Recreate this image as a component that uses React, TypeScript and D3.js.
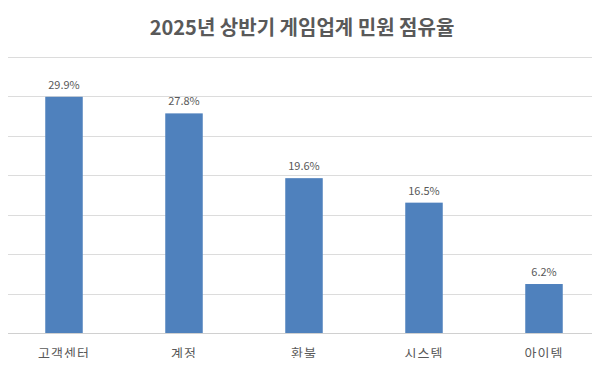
import { useEffect, useRef } from 'react';
import * as d3 from 'd3';

// chart data
const categories = ['고객센터', '계정', '환불', '시스템', '아이템'];
const shares = [29.9, 27.8, 19.6, 16.5, 6.2];
const yTicks = [0, 5, 10, 15, 20, 25, 30, 35];
const title = '2025년 상반기 게임업계 민원 점유율';

const App = () => {
  const svgRef = useRef<SVGSVGElement | null>(null);

  useEffect(() => {
    const width = 600;
    const height = 366;
    const marginTop = 56.5;
    const marginBottom = 33;
    const plotLeft = 4;
    const plotRight = 604;
    const font = '"Noto Sans CJK KR", "Noto Sans", sans-serif';

    const svg = d3.select(svgRef.current)
      .attr('width', width)
      .attr('height', height)
      .attr('viewBox', [0, 0, width, height])
      .style('display', 'block')
      .style('background', '#fff');
    svg.selectAll('*').remove();

    const x = d3.scaleBand()
      .domain(categories)
      .range([plotLeft, plotRight])
      .paddingInner(0.6875)
      .paddingOuter(0.34375);

    const y = d3.scaleLinear()
      .domain([0, 35])
      .range([height - marginBottom, marginTop]);

    // title
    svg.append('text')
      .attr('x', 302)
      .attr('y', 35)
      .attr('text-anchor', 'middle')
      .attr('font-family', font)
      .attr('font-size', 20)
      .attr('font-weight', 'bold')
      .attr('fill', '#595959')
      .text(title);

    // gridlines
    svg.append('g')
      .selectAll('line')
      .data(yTicks)
      .join('line')
      .attr('x1', plotLeft)
      .attr('x2', width)
      .attr('y1', d => Math.round(y(d)) + 0.5)
      .attr('y2', d => Math.round(y(d)) + 0.5)
      .attr('stroke', d => (d === 0 ? '#d0d0d0' : '#dcdcdc'))
      .attr('stroke-width', 1);

    const data = categories.map((c, i) => ({ category: c, value: shares[i] }));

    // bars
    svg.append('g')
      .selectAll('rect')
      .data(data)
      .join('rect')
      .attr('x', d => x(d.category) ?? 0)
      .attr('y', d => y(d.value))
      .attr('width', x.bandwidth())
      .attr('height', d => y(0) - y(d.value))
      .attr('fill', '#4f81bd');

    // value labels
    svg.append('g')
      .selectAll('text')
      .data(data)
      .join('text')
      .attr('x', d => (x(d.category) ?? 0) + x.bandwidth() / 2)
      .attr('y', d => y(d.value) - 8)
      .attr('text-anchor', 'middle')
      .attr('font-family', font)
      .attr('font-size', 11)
      .attr('fill', '#595959')
      .text(d => `${d.value.toFixed(1)}%`);

    // category labels
    svg.append('g')
      .selectAll('text')
      .data(categories)
      .join('text')
      .attr('x', d => (x(d) ?? 0) + x.bandwidth() / 2)
      .attr('y', y(0) + 25)
      .attr('text-anchor', 'middle')
      .attr('font-family', font)
      .attr('font-size', 13)
      .attr('letter-spacing', 1)
      .attr('fill', '#595959')
      .text(d => d);
  }, []);

  return (
    <div style={{ margin: -8 }}>
      <svg ref={svgRef}></svg>
    </div>
  );
};

export default App;
